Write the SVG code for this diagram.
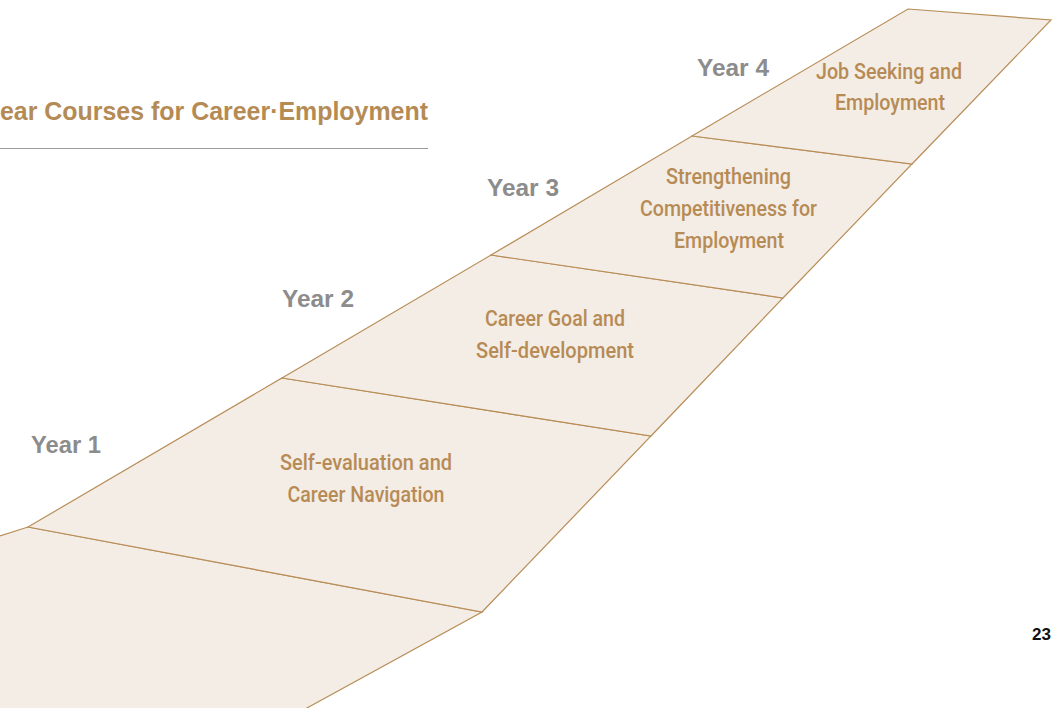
<svg xmlns="http://www.w3.org/2000/svg" width="1064" height="708" viewBox="0 0 1064 708">
<style>
.seg{fill:#f4ede5;stroke:#b88d58;stroke-width:1.2;stroke-linejoin:miter}
.edge{fill:none;stroke:#b88d58;stroke-width:1.2}
.lbl{font-family:"Roboto","Liberation Sans",sans-serif;font-weight:500;font-size:22.5px;fill:#b78b55;text-anchor:middle}
.yr{font-family:"Liberation Sans",Arial,sans-serif;font-weight:bold;font-size:23px;fill:#8c8c8c}
.ttl{font-family:"Liberation Sans",Arial,sans-serif;font-weight:bold;font-size:25px;fill:#b58b55}
</style>
<rect width="1064" height="708" fill="#ffffff"/>
<text class="ttl" x="0" y="120" textLength="428" lengthAdjust="spacingAndGlyphs">ear Courses for Career·Employment</text>
<line x1="0" y1="148.5" x2="428" y2="148.5" stroke="#9a9a9a" stroke-width="1"/>
<g id="connectors"></g>
<g id="segment-base">
<polygon points="0,536 28,527 482,612 307,708 0,708" fill="#f4ede5" stroke="none"/>
<polyline class="edge" points="0,536 28,527 482,612 306,708.5"/>
</g>
<g id="year1">
<polygon class="seg" points="28,527 282,378 651,436 482,612"/>
<text class="yr" x="31" y="453" textLength="70" lengthAdjust="spacingAndGlyphs">Year 1</text>
<text class="lbl" x="366" y="470" textLength="172" lengthAdjust="spacingAndGlyphs">Self-evaluation and</text>
<text class="lbl" x="366" y="502" textLength="157" lengthAdjust="spacingAndGlyphs">Career Navigation</text>
</g>
<g id="year2">
<polygon class="seg" points="282,378 491,255 783,298 651,436"/>
<text class="yr" x="282" y="307" textLength="72" lengthAdjust="spacingAndGlyphs">Year 2</text>
<text class="lbl" x="555" y="326" textLength="140" lengthAdjust="spacingAndGlyphs">Career Goal and</text>
<text class="lbl" x="555" y="358" textLength="158" lengthAdjust="spacingAndGlyphs">Self-development</text>
</g>
<g id="year3">
<polygon class="seg" points="491,255 692,136 912,164 783,298"/>
<text class="yr" x="487" y="196" textLength="72" lengthAdjust="spacingAndGlyphs">Year 3</text>
<text class="lbl" x="728.5" y="184" textLength="125" lengthAdjust="spacingAndGlyphs">Strengthening</text>
<text class="lbl" x="728.5" y="216" textLength="177" lengthAdjust="spacingAndGlyphs">Competitiveness for</text>
<text class="lbl" x="729" y="248" textLength="110" lengthAdjust="spacingAndGlyphs">Employment</text>
</g>
<g id="year4">
<polygon class="seg" points="692,136 908,9 1051,20 912,164"/>
<text class="yr" x="697" y="76" textLength="72" lengthAdjust="spacingAndGlyphs">Year 4</text>
<text class="lbl" x="889" y="79" textLength="146" lengthAdjust="spacingAndGlyphs">Job Seeking and</text>
<text class="lbl" x="890" y="110" textLength="110" lengthAdjust="spacingAndGlyphs">Employment</text>
</g>
<text x="1051" y="640" text-anchor="end" font-family="Liberation Sans, Arial, sans-serif" font-weight="bold" font-size="17" fill="#111111">23</text>
</svg>
